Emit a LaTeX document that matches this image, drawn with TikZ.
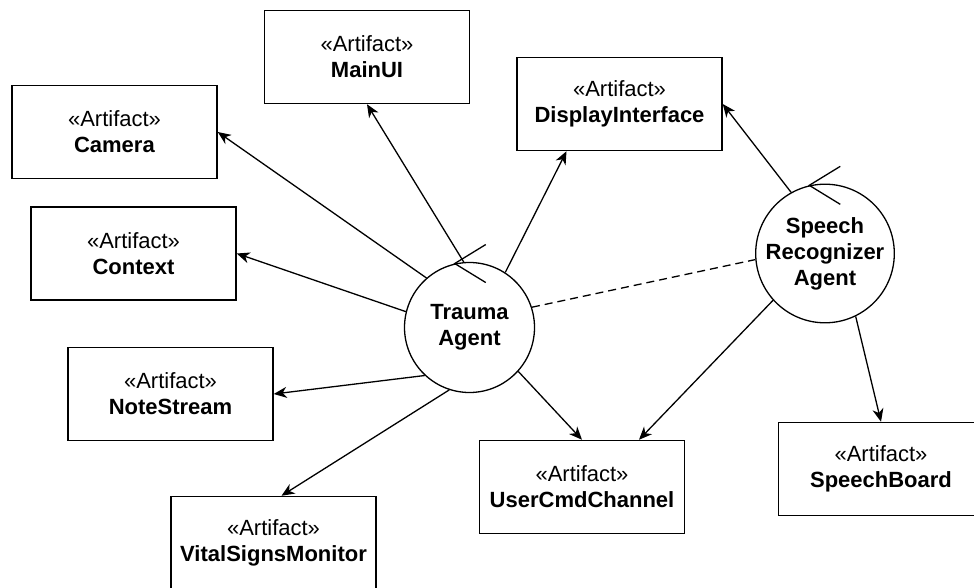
\documentclass[tikz,border=0pt]{standalone}
\usepackage{fontspec}
\setmainfont{Liberation Sans}
\usetikzlibrary{arrows.meta}
\begin{document}
\begin{tikzpicture}[x=1pt,y=-1pt,
  artifact/.style={draw, line width=1.5pt, minimum width=205pt, minimum height=93pt,
    align=center, inner sep=0pt, font=\fontsize{22}{26}\selectfont},
  agent/.style={draw, circle, line width=1.3pt, minimum size=130pt, inner sep=0pt,
    align=center, font=\fontsize{22}{26}\selectfont\bfseries},
  dep/.style={line width=1.3pt, -{Stealth[length=13pt,width=11pt,inset=4pt]}},
  link/.style={line width=1.3pt, dash pattern=on 8pt off 5pt},
  agentmark/.style={line width=1.3pt}]
\clip (0,0) rectangle (974,588);
\fill[white] (0,0) rectangle (974,588);

% artifacts
\node[artifact] (mainui)     at (367,57)     {«Artifact»\\\textbf{MainUI}};
\node[artifact] (camera)     at (114.5,132)  {«Artifact»\\\textbf{Camera}};
\node[artifact] (context)    at (133.5,253.5){«Artifact»\\\textbf{Context}};
\node[artifact] (notestream) at (170.5,394)  {«Artifact»\\\textbf{NoteStream}};
\node[artifact] (vital)      at (273.5,543)  {«Artifact»\\\textbf{VitalSignsMonitor}};
\node[artifact] (ucc)        at (582,487)    {«Artifact»\\\textbf{UserCmdChannel}};
\node[artifact] (disp)       at (619.5,104)  {«Artifact»\\\textbf{DisplayInterface}};
\node[artifact] (sb)         at (881,469)    {«Artifact»\\\textbf{SpeechBoard}};

% agents
\node[agent] (trauma) at (469.5,327.5) {Trauma\\Agent};
\node[agent] (speech) at (825,253.5)   {Speech\\Recognizer\\Agent};

% agent symbols
\draw[agentmark] (trauma.103) ++(31,-19) -- (trauma.103) -- ++(31,19);
\draw[agentmark] (speech.103) ++(31,-19) -- (speech.103) -- ++(31,19);

% dependencies of the trauma agent
\draw[dep] (trauma.131) -- (camera.east);
\draw[dep] (trauma.95)  -- (mainui.south);
\draw[dep] (trauma.166) -- (context.east);
\draw[dep] (trauma.227) -- (notestream.east);
\draw[dep] (trauma.252) -- ([xshift=8pt]vital.north);
\draw[dep] (trauma.318) -- (ucc.north);
\draw[dep] (trauma.57)  -- ([xshift=-53pt]disp.south);

% link between agents
\draw[link] (trauma.18) -- (speech.185);

% dependencies of the speech recognizer agent
\draw[dep] (speech.119) -- (disp.east);
\draw[dep] (speech.222) -- ([xshift=57pt]ucc.north);
\draw[dep] (speech.296) -- (sb.north);
\end{tikzpicture}
\end{document}
